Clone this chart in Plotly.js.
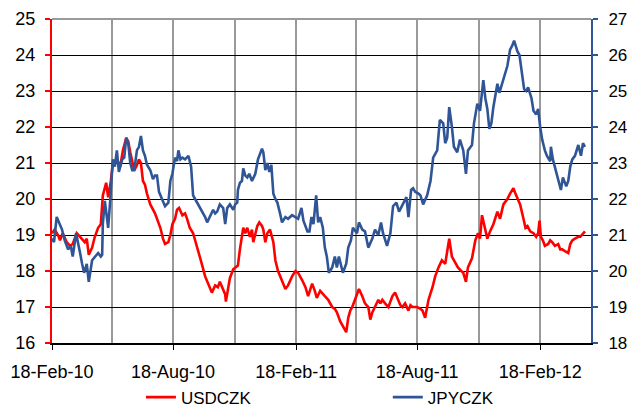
<!DOCTYPE html>
<html>
<head>
<meta charset="utf-8">
<script src="https://cdn.plot.ly/plotly-3.0.1.min.js"></script>
<style>
  html, body { margin: 0; padding: 0; background: #fff; }
  #chart { width: 632px; height: 409px; }
</style>
</head>
<body>
<div id="chart"></div>
<script>
// ---- Data ----
const usdName = "USDCZK";
const jpyName = "JPYCZK";

const usdDates = [
  "2010-02-18","2010-02-22","2010-02-27","2010-03-02","2010-03-06","2010-03-12","2010-03-17","2010-03-21","2010-03-27","2010-04-01",
  "2010-04-05","2010-04-08","2010-04-11","2010-04-14","2010-04-19","2010-04-23","2010-04-28","2010-05-02","2010-05-05","2010-05-10",
  "2010-05-13","2010-05-17","2010-05-20","2010-05-26","2010-05-31","2010-06-04","2010-06-09","2010-06-12","2010-06-15","2010-06-18",
  "2010-06-21","2010-06-24","2010-06-28","2010-07-01","2010-07-04","2010-07-07","2010-07-10","2010-07-15","2010-07-19","2010-07-22",
  "2010-07-27","2010-07-30","2010-08-03","2010-08-06","2010-08-11","2010-08-14","2010-08-17","2010-08-21","2010-08-24","2010-08-27",
  "2010-09-01","2010-09-05","2010-09-08","2010-09-12","2010-09-17","2010-09-21","2010-09-24","2010-09-27","2010-09-30","2010-10-05",
  "2010-10-09","2010-10-12","2010-10-15","2010-10-20","2010-10-24","2010-10-27","2010-10-30","2010-11-04","2010-11-05","2010-11-08",
  "2010-11-11","2010-11-16","2010-11-20","2010-11-23","2010-11-26","2010-12-01","2010-12-04","2010-12-07","2010-12-11","2010-12-14",
  "2010-12-16","2010-12-22","2010-12-25","2010-12-29","2010-12-31","2011-01-03","2011-01-06","2011-01-10","2011-01-15","2011-01-18",
  "2011-01-22","2011-01-25","2011-01-28","2011-02-02","2011-02-06","2011-02-12","2011-02-17","2011-02-21","2011-02-27","2011-03-04",
  "2011-03-08","2011-03-14","2011-03-18","2011-03-21","2011-03-26","2011-03-30","2011-04-02","2011-04-07","2011-04-13","2011-04-17",
  "2011-04-20","2011-04-25","2011-04-29","2011-05-04","2011-05-07","2011-05-10","2011-05-13","2011-05-17","2011-05-23","2011-05-28",
  "2011-06-01","2011-06-06","2011-06-09","2011-06-12","2011-06-16","2011-06-21","2011-06-24","2011-06-27","2011-07-01","2011-07-06",
  "2011-07-09","2011-07-12","2011-07-16","2011-07-21","2011-07-24","2011-07-27","2011-07-31","2011-08-05","2011-08-08","2011-08-11",
  "2011-08-15","2011-08-18","2011-08-23","2011-08-26","2011-08-30","2011-09-04","2011-09-10","2011-09-14","2011-09-19","2011-09-24",
  "2011-09-29","2011-10-02","2011-10-05","2011-10-09","2011-10-14","2011-10-18","2011-10-23","2011-10-26","2011-10-30","2011-11-02",
  "2011-11-08","2011-11-13","2011-11-17","2011-11-20","2011-11-23","2011-11-26","2011-12-01","2011-12-05","2011-12-10","2011-12-16",
  "2011-12-20","2011-12-25","2011-12-31","2012-01-04","2012-01-09","2012-01-12","2012-01-15","2012-01-19","2012-01-24","2012-01-27",
  "2012-01-30","2012-02-03","2012-02-08","2012-02-12","2012-02-15","2012-02-17","2012-02-19","2012-02-22","2012-02-25","2012-03-01",
  "2012-03-04","2012-03-07","2012-03-11","2012-03-16","2012-03-19","2012-03-22","2012-03-26","2012-03-31","2012-04-03","2012-04-06",
  "2012-04-10","2012-04-15","2012-04-18","2012-04-22","2012-04-25"
];
const usdValues = [
  19.05,19.15,19.0,18.85,19.05,18.8,18.7,18.75,19.05,18.95,
  18.85,18.8,18.9,18.45,18.65,18.95,19.2,19.3,20.1,20.45,
  20.05,20.5,21.0,21.1,20.9,21.35,21.7,21.6,21.3,21.0,
  20.8,20.9,21.1,21.0,20.5,20.4,20.15,19.85,19.7,19.6,
  19.35,19.2,18.9,18.75,18.8,19.0,19.3,19.45,19.7,19.75,
  19.55,19.6,19.45,19.2,19.05,18.8,18.6,18.4,18.2,17.85,
  17.65,17.55,17.4,17.6,17.55,17.7,17.55,17.35,17.15,17.5,
  17.8,18.05,18.1,18.15,18.6,19.2,19.05,19.2,18.95,19.15,
  18.8,19.25,19.35,19.25,19.15,18.8,19.05,19.15,18.8,18.3,
  18.0,17.85,17.75,17.5,17.6,17.85,18.0,17.95,17.75,17.55,
  17.3,17.65,17.45,17.25,17.45,17.35,17.3,17.2,17.0,16.95,
  16.85,16.6,16.45,16.3,16.7,16.9,17.0,17.2,17.5,17.3,
  17.1,17.0,16.65,16.85,17.0,17.2,17.1,17.2,17.1,17.0,
  17.15,17.3,17.4,17.2,17.05,17.0,17.1,16.9,17.05,17.0,
  17.0,17.0,16.95,16.9,16.7,17.2,17.55,17.85,18.1,18.3,
  18.2,18.5,18.9,18.4,18.25,18.1,18.0,17.95,17.7,18.1,
  18.35,18.85,19.05,18.9,19.55,19.3,18.9,19.1,19.3,19.65,
  19.45,19.85,20.0,20.15,20.3,20.15,20.0,19.85,19.45,19.2,
  19.25,19.1,19.05,18.95,19.05,19.4,18.95,18.85,18.7,18.75,
  18.85,18.8,18.7,18.75,18.6,18.6,18.55,18.5,18.75,18.85,
  18.9,18.95,18.95,19.05,19.1
];

const jpyDates = [
  "2010-02-18","2010-02-21","2010-02-25","2010-02-28","2010-03-05","2010-03-09","2010-03-14","2010-03-18","2010-03-21","2010-03-26",
  "2010-03-29","2010-04-01","2010-04-04","2010-04-07","2010-04-11","2010-04-14","2010-04-19","2010-04-23","2010-04-28","2010-05-02",
  "2010-05-04","2010-05-05","2010-05-08","2010-05-11","2010-05-13","2010-05-16","2010-05-20","2010-05-23","2010-05-26","2010-05-29",
  "2010-06-03","2010-06-06","2010-06-09","2010-06-12","2010-06-15","2010-06-18","2010-06-21","2010-06-25","2010-06-28","2010-07-01",
  "2010-07-04","2010-07-07","2010-07-10","2010-07-15","2010-07-19","2010-07-22","2010-07-25","2010-07-28","2010-08-02","2010-08-06",
  "2010-08-11","2010-08-14","2010-08-17","2010-08-21","2010-08-24","2010-08-26","2010-08-29","2010-09-01","2010-09-05","2010-09-10",
  "2010-09-14","2010-09-17","2010-09-20","2010-09-23","2010-09-27","2010-10-02","2010-10-05","2010-10-08","2010-10-12","2010-10-17",
  "2010-10-20","2010-10-23","2010-10-27","2010-11-01","2010-11-04","2010-11-07","2010-11-11","2010-11-16","2010-11-19","2010-11-22",
  "2010-11-23","2010-11-26","2010-11-29","2010-12-01","2010-12-04","2010-12-07","2010-12-10","2010-12-14","2010-12-19","2010-12-23",
  "2010-12-26","2010-12-29","2010-12-31","2011-01-03","2011-01-06","2011-01-09","2011-01-12","2011-01-15","2011-01-18","2011-01-21",
  "2011-01-25","2011-01-28","2011-02-02","2011-02-06","2011-02-12","2011-02-17","2011-02-21","2011-02-26","2011-03-01","2011-03-07",
  "2011-03-10","2011-03-13","2011-03-16","2011-03-20","2011-03-23","2011-03-26","2011-03-30","2011-04-02","2011-04-05","2011-04-08",
  "2011-04-13","2011-04-17","2011-04-20","2011-04-23","2011-04-29","2011-05-04","2011-05-07","2011-05-11","2011-05-14","2011-05-20",
  "2011-05-23","2011-05-28","2011-06-01","2011-06-06","2011-06-12","2011-06-16","2011-06-21","2011-06-25","2011-06-28","2011-07-04",
  "2011-07-09","2011-07-13","2011-07-18","2011-07-22","2011-07-28","2011-08-02","2011-08-05","2011-08-09","2011-08-12","2011-08-15",
  "2011-08-20","2011-08-23","2011-08-27","2011-09-02","2011-09-07","2011-09-11","2011-09-17","2011-09-21","2011-09-26","2011-09-29",
  "2011-10-02","2011-10-05","2011-10-09","2011-10-12","2011-10-17","2011-10-21","2011-10-26","2011-10-30","2011-11-02","2011-11-08",
  "2011-11-11","2011-11-16","2011-11-20","2011-11-25","2011-11-28","2011-12-01","2011-12-04","2011-12-07","2011-12-10","2011-12-16",
  "2011-12-19","2011-12-25","2011-12-31","2012-01-04","2012-01-07","2012-01-10","2012-01-15","2012-01-18","2012-01-21","2012-01-22",
  "2012-01-25","2012-01-28","2012-01-31","2012-02-05","2012-02-08","2012-02-12","2012-02-15","2012-02-18","2012-02-21","2012-02-25",
  "2012-02-28","2012-03-04","2012-03-05","2012-03-08","2012-03-11","2012-03-14","2012-03-17","2012-03-20","2012-03-23","2012-03-28",
  "2012-03-31","2012-04-03","2012-04-06","2012-04-10","2012-04-15","2012-04-19","2012-04-22","2012-04-25"
];
const jpyValues = [
  20.9,20.8,21.5,21.35,21.15,20.85,20.6,20.7,20.4,21.05,
  20.8,20.5,20.2,19.95,20.2,19.7,20.3,20.4,20.5,20.4,
  20.45,21.3,21.95,21.5,21.2,21.95,23.1,22.9,23.35,22.75,
  23.1,23.15,23.7,23.55,23.0,22.8,22.8,23.35,23.45,23.75,
  23.35,23.2,22.95,22.8,22.55,22.65,22.65,22.2,21.95,21.8,
  21.9,22.5,22.7,23.15,23.05,23.35,23.1,23.15,23.1,23.2,
  22.9,22.1,22.0,21.9,21.8,21.6,21.5,21.35,21.5,21.7,
  21.6,21.65,21.85,21.75,21.3,21.75,21.85,21.7,21.85,21.9,
  22.25,22.45,22.5,22.85,22.65,22.6,22.7,22.5,22.7,23.1,
  23.25,23.4,23.3,22.8,23.0,22.75,22.95,22.15,22.0,21.9,
  21.6,21.35,21.5,21.45,21.55,21.5,21.45,21.75,21.4,21.1,
  21.1,21.5,21.3,22.1,21.35,21.5,21.2,20.65,20.4,19.95,
  20.1,20.4,20.1,20.4,19.95,20.2,20.65,20.85,21.2,21.05,
  21.35,21.15,21.1,20.65,20.9,21.15,21.0,21.35,21.05,20.7,
  21.05,21.8,21.9,21.65,21.85,22.05,21.5,22.25,22.3,22.2,
  22.15,22.1,21.85,22.1,22.5,23.15,23.35,24.2,24.1,23.55,
  23.7,24.55,24.0,23.45,23.3,23.65,23.35,22.7,23.35,23.5,
  24.1,24.65,24.45,25.3,24.8,24.5,23.95,24.1,24.55,25.2,
  24.95,25.35,25.7,26.15,26.25,26.4,26.1,26.0,25.65,25.5,
  25.05,25.0,25.1,24.8,24.45,24.35,24.5,24.0,23.65,23.35,
  23.2,23.05,23.45,23.1,22.9,22.7,22.5,22.25,22.6,22.35,
  22.5,22.9,23.1,23.2,23.5,23.2,23.55,23.45
];

const xStart = "2010-02-18";
const xEnd = "2012-05-04";

// ---- Styles ----
const RED = "#ff0000";
const BLUE = "#2f5597";
const FONT = "Liberation Sans, Arial, sans-serif";

const traces = [
  {
    x: usdDates, y: usdValues, name: usdName, type: "scatter", mode: "lines",
    line: { color: RED, width: 2.6 }, yaxis: "y", legend: "legend"
  },
  {
    x: jpyDates, y: jpyValues, name: jpyName, type: "scatter", mode: "lines",
    line: { color: BLUE, width: 2.6 }, yaxis: "y2", legend: "legend2"
  }
];

const legendCommon = {
  orientation: "h", xanchor: "left", yanchor: "top", y: -0.113,
  font: { family: FONT, size: 17, color: "#000" },
  bgcolor: "rgba(0,0,0,0)", borderwidth: 0
};

const layout = {
  width: 632, height: 409,
  margin: { l: 52, r: 41, t: 19, b: 66, pad: 0, autoexpand: false },
  paper_bgcolor: "#ffffff", plot_bgcolor: "#ffffff",
  font: { family: FONT, size: 18, color: "#000" },
  showlegend: true,
  legend: Object.assign({}, legendCommon, { x: 0.165 }),
  legend2: Object.assign({}, legendCommon, { x: 0.623 }),
  xaxis: {
    type: "date", range: [xStart, xEnd], autorange: false,
    tick0: xStart, dtick: "M6", tickformat: "%d-%b-%y",
    ticks: "outside", ticklen: 5, tickwidth: 1, tickcolor: "#000",
    showline: true, linecolor: "#000", linewidth: 2,
    showgrid: true, gridcolor: "#9a9a9a", gridwidth: 2,
    minor: { tick0: xStart, dtick: "M3", showgrid: true, gridcolor: "#9a9a9a", gridwidth: 2, ticks: "" },
    zeroline: false, automargin: false, fixedrange: true,
    ticklabelstandoff: 6,
    tickfont: { family: FONT, size: 18, color: "#000" }
  },
  yaxis: {
    range: [16, 25], autorange: false, dtick: 1, tick0: 16,
    ticks: "outside", ticklen: 5, tickwidth: 1.5, tickcolor: RED,
    showline: true, linecolor: RED, linewidth: 2,
    showgrid: true, gridcolor: "#000000", gridwidth: 1,
    zeroline: false, automargin: false, fixedrange: true,
    ticklabelstandoff: 6,
    tickfont: { family: FONT, size: 18, color: "#000" }
  },
  yaxis2: {
    range: [18, 27], autorange: false, dtick: 1, tick0: 18,
    overlaying: "y", side: "right", anchor: "x",
    ticks: "outside", ticklen: 5, tickwidth: 1.5, tickcolor: BLUE,
    showline: true, linecolor: BLUE, linewidth: 2,
    showgrid: false, zeroline: false, automargin: false, fixedrange: true,
    ticklabelstandoff: 7,
    tickfont: { family: FONT, size: 17, color: "#000" }
  },
  shapes: [
    { type: "line", xref: "paper", yref: "paper", x0: 0, x1: 1, y0: 1, y1: 1,
      line: { color: "#9a9a9a", width: 2 }, layer: "above" }
  ]
};

Plotly.newPlot("chart", traces, layout, { staticPlot: true, displayModeBar: false });
</script>
</body>
</html>
